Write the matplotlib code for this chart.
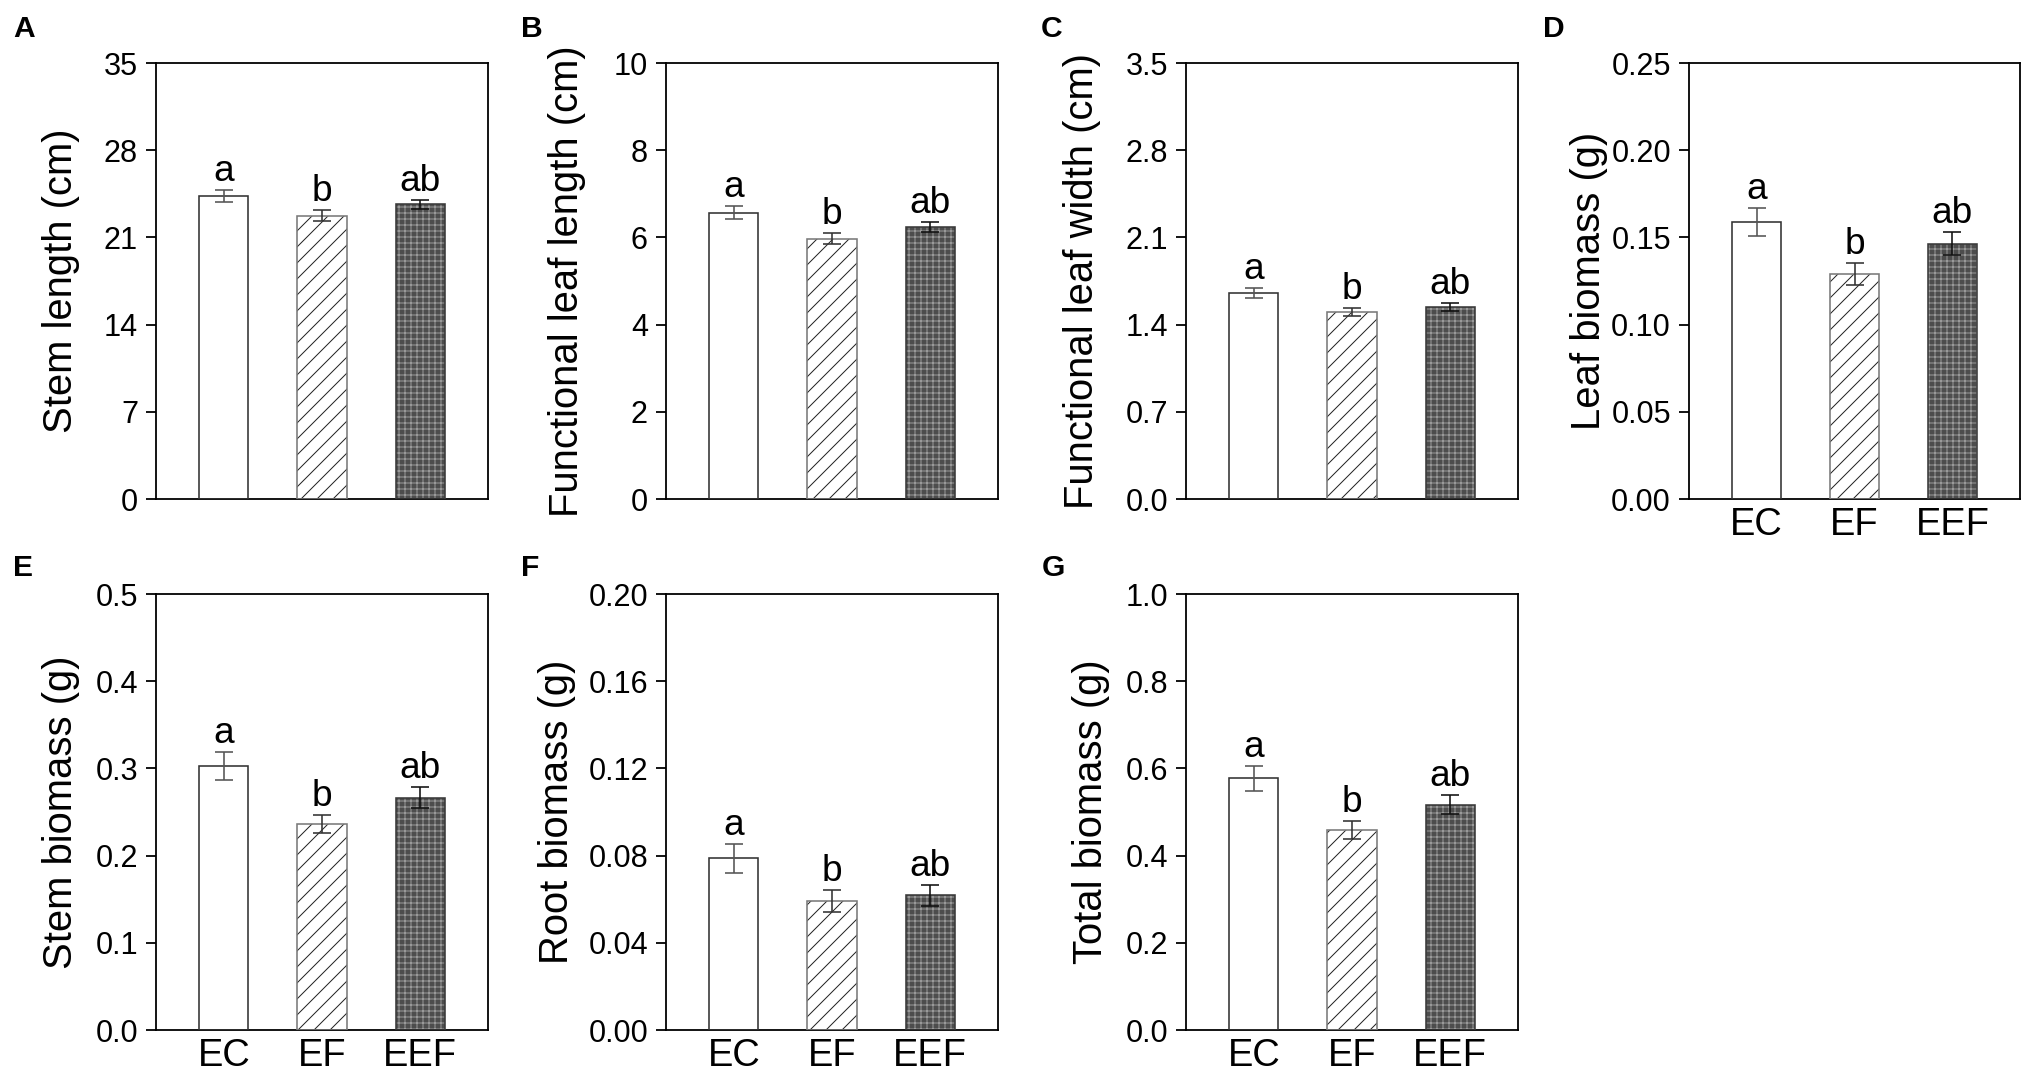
import matplotlib
matplotlib.use("Agg")
import matplotlib.pyplot as plt
import numpy as np

plt.rcParams['font.family'] = ['Liberation Sans', 'DejaVu Sans']
plt.rcParams['hatch.linewidth'] = 0.5

groups = ["EC", "EF", "EEF"]
letters = ["a", "b", "ab"]

stem_length = [24.3, 22.75, 23.65]
stem_length_se = [0.47, 0.44, 0.37]
leaf_length = [6.57, 5.97, 6.24]
leaf_length_se = [0.15, 0.12, 0.12]
leaf_width = [1.655, 1.503, 1.544]
leaf_width_se = [0.04, 0.032, 0.032]
leaf_biomass = [0.159, 0.129, 0.1465]
leaf_biomass_se = [0.0081, 0.0064, 0.0068]
stem_biomass = [0.3028, 0.2362, 0.2665]
stem_biomass_se = [0.0162, 0.0106, 0.0118]
root_biomass = [0.0787, 0.0591, 0.0617]
root_biomass_se = [0.0065, 0.0052, 0.0046]
total_biomass = [0.577, 0.459, 0.517]
total_biomass_se = [0.0296, 0.0213, 0.0217]

W, H, DPI = 2033, 1079, 144
fig = plt.figure(figsize=(W / DPI, H / DPI), dpi=DPI)

panels = [
    ("A", stem_length, stem_length_se, "Stem length (cm)", 35, np.arange(0, 36, 7), "{:.0f}", (156, 63, 488, 499), False, -0.229, (13, 37)),
    ("B", leaf_length, leaf_length_se, "Functional leaf length (cm)", 10, np.arange(0, 11, 2), "{:.0f}", (666, 63, 998, 499), False, -0.241, (521, 37)),
    ("C", leaf_width, leaf_width_se, "Functional leaf width (cm)", 3.5, np.arange(0, 3.51, 0.7), "{:.1f}", (1186, 63, 1518, 499), False, -0.256, (1041, 37)),
    ("D", leaf_biomass, leaf_biomass_se, "Leaf biomass (g)", 0.25, np.arange(0, 0.251, 0.05), "{:.2f}", (1689, 63, 2020, 499), True, -0.245, (1543, 37)),
    ("E", stem_biomass, stem_biomass_se, "Stem biomass (g)", 0.5, np.arange(0, 0.51, 0.1), "{:.1f}", (156, 594, 488, 1030), True, -0.229, (13, 576)),
    ("F", root_biomass, root_biomass_se, "Root biomass (g)", 0.20, np.arange(0, 0.201, 0.04), "{:.2f}", (666, 594, 998, 1030), True, -0.271, (521, 576)),
    ("G", total_biomass, total_biomass_se, "Total biomass (g)", 1.0, np.arange(0, 1.01, 0.2), "{:.1f}", (1186, 594, 1518, 1030), True, -0.229, (1042, 576)),
]

face = ["white", "white", "#4d4d4d"]
hatches = [None, "///", "++++"]
hatch_col = ["white", "#222222", "#9a9a9a"]
edge = ["#333333", "#7a7a7a", "#3a3a3a"]
ecol = ["#555555", "#333333", "#111111"]

x = np.arange(1, 4)
for (lab, vals, se, ylab, ymax, yt, fmt, box, showx, ylx, ppos) in panels:
    l, t, r, b = box
    ax = fig.add_axes([l / W, 1 - b / H, (r - l) / W, (b - t) / H])
    for i in range(3):
        ax.bar(x[i], vals[i], width=0.5, color=face[i], hatch=hatches[i],
               edgecolor=hatch_col[i], linewidth=0, zorder=2)
        ax.bar(x[i], vals[i], width=0.5, fill=False, edgecolor=edge[i],
               linewidth=0.8, zorder=3)
        ax.errorbar(x[i], vals[i], yerr=se[i], fmt="none", ecolor=ecol[i],
                    elinewidth=0.8, capsize=4.3, capthick=0.8, zorder=4)
        ax.annotate(letters[i], (x[i], vals[i] + se[i]), xytext=(0, 4.5),
                    textcoords="offset points", ha="center", va="baseline",
                    fontsize=18.5)
    ax.set_xlim(0.31, 3.69)
    ax.set_ylim(0, ymax)
    ax.set_yticks(yt)
    ax.set_yticklabels([fmt.format(v) for v in yt])
    ax.set_xticks(x)
    if showx:
        ax.set_xticklabels(groups, fontsize=19)
    else:
        ax.set_xticklabels([])
    ax.tick_params(axis="x", length=0, pad=4)
    ax.tick_params(axis="y", direction="out", length=5, width=0.9, pad=4, labelsize=15.3)
    for s in ax.spines.values():
        s.set_linewidth(0.9)
    ax.set_ylabel(ylab, fontsize=20)
    ax.yaxis.set_label_coords(ylx, 0.5)
    fig.text(ppos[0] / W, 1 - ppos[1] / H, lab, fontsize=15, fontweight="bold",
             ha="left", va="baseline")

fig.savefig("out.png", dpi=DPI)
